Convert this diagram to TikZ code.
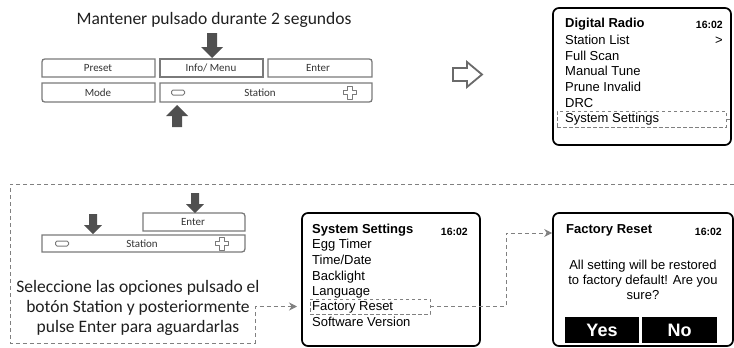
\documentclass[tikz,border=0pt]{standalone}
\usepackage{fontspec}
\setmainfont{Carlito}
\newfontfamily\arial{Liberation Sans}
\usetikzlibrary{arrows.meta}
\definecolor{panelgray}{HTML}{7A7A7A}
\definecolor{arrowgray}{HTML}{505050}
\definecolor{dashgray}{HTML}{808080}
\definecolor{txtgray}{HTML}{333333}
\definecolor{hollowgray}{HTML}{6A6A6A}
\tikzset{
  downarr/.pic={\fill[arrowgray] (0,0) -- (-11,-11) -- (-5,-11) -- (-5,-25) -- (5,-25) -- (5,-11) -- (11,-11) -- cycle;},
  uparr/.pic={\fill[arrowgray] (0,0) -- (-11,11) -- (-5,11) -- (-5,22) -- (5,22) -- (5,11) -- (11,11) -- cycle;},
  minusicon/.pic={\draw[panelgray, line width=1pt, rounded corners=1.5pt] (-6.5,-2.5) rectangle (6.5,2.5);},
  plusicon/.pic={\draw[panelgray, line width=1pt, line join=round] (-2.3,-6.5) -- (2.3,-6.5) -- (2.3,-2.3) -- (6.5,-2.3) -- (6.5,2.3) -- (2.3,2.3) -- (2.3,6.5) -- (-2.3,6.5) -- (-2.3,2.3) -- (-6.5,2.3) -- (-6.5,-2.3) -- (-2.3,-2.3) -- cycle;},
}
\begin{document}
\begin{tikzpicture}[x=1pt,y=-1pt,
  cell/.style={draw=panelgray, line width=1.3pt},
  celltext/.style={font=\fontsize{11}{13}\selectfont, text=txtgray, inner sep=0},
  screen/.style={draw=black, line width=1.7pt, rounded corners=6pt, inner sep=0},
  scrtext/.style={font=\arial\fontsize{13}{15}\selectfont, anchor=west, inner sep=0, text height=9.5pt, text depth=2.5pt},
  scrtitle/.style={scrtext, font=\arial\bfseries\fontsize{13}{15}\selectfont},
  clock/.style={font=\arial\bfseries\fontsize{10.5}{12}\selectfont, anchor=east, inner sep=0, text height=7.5pt, text depth=0pt},
  sel/.style={draw=dashgray, dash pattern=on 3.5pt off 2.5pt, line width=0.9pt, inner sep=0},
  conn/.style={draw=dashgray, dash pattern=on 4pt off 3pt, line width=0.9pt},
  tipped/.style={-{Stealth[length=8pt,width=8pt]}},
  spanish/.style={font=\fontsize{17.5}{20}\selectfont, text=black!88, inner sep=0},
  yesno/.style={fill=black, text=white, font=\arial\bfseries\fontsize{18}{20}\selectfont, inner sep=0, minimum height=26pt},
]
\useasboundingbox (0,0) rectangle (734,348);

% ---------- top instruction ----------
\node[spanish] (hold) at (214,20) {Mantener pulsado durante 2 segundos};
\pic at (212,58) {downarr};

% ---------- front panel ----------
\draw[cell] (155,77) -- (42,77) -- (42,65) .. controls (42,59) .. (48,59) -- (155,59) -- cycle;
\draw[cell] (155,83) -- (42,83) -- (42,96) .. controls (42,102) .. (48,102) -- (155,102) -- cycle;
\draw[cell] (160,59) rectangle (263,77);
\draw[cell] (268,77) -- (268,59) -- (366,59) .. controls (372,59) .. (372,65) -- (372,77) -- cycle;
\draw[cell] (160,83) -- (372,83) -- (372,96) .. controls (372,102) .. (366,102) -- (160,102) -- cycle;
\node[celltext] (tpreset) at (98,68) {Preset};
\node[celltext] (tinfo) at (211,68) {Info/ Menu};
\node[celltext] (tenter) at (318,68) {Enter};
\node[celltext] (tmode) at (98,92.5) {Mode};
\node[celltext] (tstation) at (260,92.5) {Station};
\pic at (178,92.5) {minusicon};
\pic at (350,92.5) {plusicon};
\pic at (177,105) {uparr};

% ---------- hollow arrow ----------
\draw[hollowgray, line width=1.8pt, line join=miter] (453,68) -- (467,68) -- (467,62) -- (482,74.5) -- (467,87) -- (467,81) -- (453,81) -- cycle;

% ---------- Digital Radio screen ----------
\node[screen, minimum width=178pt, minimum height=137pt] (drb) at (642,76.5) {};
\node[scrtitle] (dr0) at (565,24) {Digital Radio};
\node[clock] (drc) at (723,25) {16:02};
\node[scrtext] (dr1) at (565,41) {Station List};
\node[scrtext, anchor=east] (drgt) at (723,41) {>};
\node[scrtext] (dr2) at (565,57) {Full Scan};
\node[scrtext] (dr3) at (565,72) {Manual Tune};
\node[scrtext] (dr4) at (565,88) {Prune Invalid};
\node[scrtext] (dr5) at (565,104) {DRC};
\node[scrtext] (dr6) at (565,119) {System Settings};
\node[sel, minimum width=169pt, minimum height=16pt] (ssel) at (641.5,119) {};
\draw[conn] (ssel.east) -- ++(5,0);

% ---------- lower dashed frame / connector ----------
\coordinate (fr0) at (734,184);
\coordinate (fr1) at (10,184);
\coordinate (fr2) at (10,343);
\coordinate (fr3) at (255,343);

% ---------- small panel ----------
\draw[cell] (143,231) -- (143,213) -- (238,213) .. controls (245,213) .. (245,220) -- (245,231) -- cycle;
\draw[cell] (42,235) -- (245,235) -- (245,245) .. controls (245,252) .. (238,252) -- (42,252) -- cycle;
\node[celltext] (senter) at (193,222) {Enter};
\node[celltext] (sstation) at (142,243.5) {Station};
\pic at (62,243.5) {minusicon};
\pic at (222,243.5) {plusicon};
\pic[scale=0.8] at (93,234) {downarr};
\pic[scale=0.8] at (195,213) {downarr};

\node[spanish, align=center] (instr) at (138,308) {Seleccione las opciones pulsado el\\botón Station y posteriormente\\pulse Enter para aguardarlas};

% ---------- System Settings screen ----------
\node[screen, minimum width=178pt, minimum height=133pt] (ssb) at (391,279.5) {};
\node[scrtitle] (ss0) at (312,230) {System Settings};
\node[clock] (ssc) at (468,232) {16:02};
\node[scrtext] (ss1) at (312,245) {Egg Timer};
\node[scrtext] (ss2) at (312,261) {Time/Date};
\node[scrtext] (ss3) at (312,277) {Backlight};
\node[scrtext] (ss4) at (312,292) {Language};
\node[scrtext] (ss5) at (312,307) {Factory Reset};
\node[scrtext] (ss6) at (312,323) {Software Version};
\node[sel, minimum width=120pt, minimum height=15pt] (fsel) at (370,306.5) {};

\coordinate (fr5) at (297,306.5);
\draw[conn, tipped] (fr0) -- (fr1) -- (fr2) -- (fr3) |- (fr5);

% ---------- Factory Reset screen ----------
\node[screen, minimum width=180pt, minimum height=133pt] (frb) at (643,279.5) {};
\node[scrtitle] (fr0t) at (566,230) {Factory Reset};
\node[clock] (frc) at (722,232) {16:02};
\node[font=\arial\fontsize{13}{15}\selectfont, align=center, inner sep=0] (msg) at (643,280) {All setting will be restored\\to factory default! Are you\\sure?};
\node[yesno, minimum width=74pt] (yes) at (602,330) {Yes};
\node[yesno, minimum width=75pt] (no) at (679.5,330) {No};

\coordinate (k1) at (506,233);
\draw[conn, tipped] (fsel.east) -| (k1) -- (k1 -| frb.west);
\end{tikzpicture}
\end{document}
